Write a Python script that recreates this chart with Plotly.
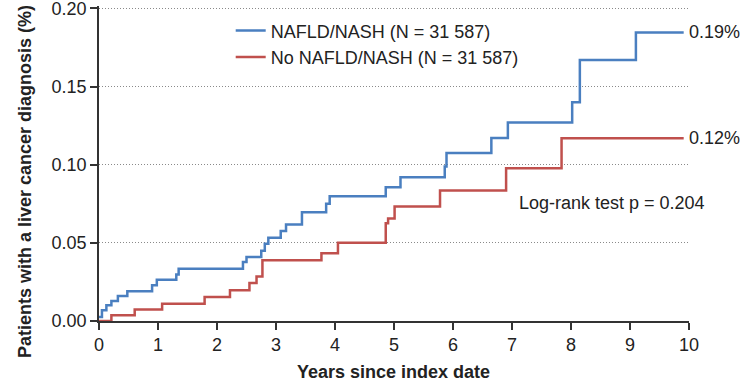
import plotly.graph_objects as go

# Years since index date (step times) and cumulative incidence (%)
nafld_years = [0, 0.05, 0.125, 0.21, 0.32, 0.48, 0.9, 0.98, 1.31, 1.35, 2.44, 2.5,
               2.75, 2.81, 2.87, 3.08, 3.17, 3.44, 3.85, 3.91, 4.86, 5.11, 5.86,
               5.89, 6.65, 6.93, 8.02, 8.15, 9.1, 9.91]
nafld_pct = [0.0026, 0.0068, 0.010, 0.0128, 0.016, 0.019, 0.0228, 0.0264, 0.0298,
             0.0334, 0.0377, 0.0409, 0.045, 0.0494, 0.0532, 0.0575, 0.0617, 0.0696,
             0.075, 0.0798, 0.0856, 0.092, 0.0988, 0.1075, 0.117, 0.127, 0.140,
             0.167, 0.1846, 0.1846]

no_nafld_years = [0, 0.21, 0.605, 1.07, 1.79, 2.22, 2.55, 2.67, 2.77, 3.77, 4.05,
                  4.86, 4.90, 5.01, 5.78, 6.9, 7.84, 9.91]
no_nafld_pct = [0, 0.0036, 0.0073, 0.011, 0.0153, 0.0196, 0.0243, 0.0285, 0.0388,
                0.0434, 0.050, 0.0625, 0.0655, 0.0732, 0.0835, 0.0977, 0.1169, 0.1169]

series_names = ["NAFLD/NASH (N = 31 587)", "No NAFLD/NASH (N = 31 587)"]
end_labels = ["0.19%", "0.12%"]
x_ticks = list(range(0, 11))
y_ticks = [0.00, 0.05, 0.10, 0.15, 0.20]

BLUE = "#4a7fc0"
RED = "#c0504d"
FONT = "Liberation Sans, Arial, sans-serif"
TXT = "#222222"
FS = 18

Y_TOP = 0.2015  # slightly above 0.20 so the top tick/grid is kept

# plot area in pixels (0.20 sits at y=8, 0 at y=320.7)
PX0, PX1, PY1 = 99.3, 689.3, 320.7
PY0 = PY1 - (PY1 - 8.0) * Y_TOP / 0.2
PW, PH = PX1 - PX0, PY1 - PY0

fig = go.Figure()
fig.add_trace(go.Scatter(x=nafld_years, y=nafld_pct, mode="lines", line_shape="hv",
                         line=dict(color=BLUE, width=2.5), name=series_names[0]))
fig.add_trace(go.Scatter(x=no_nafld_years, y=no_nafld_pct, mode="lines", line_shape="hv",
                         line=dict(color=RED, width=2.5), name=series_names[1]))

fig.add_annotation(x=10, y=nafld_pct[-1], text=end_labels[0], xanchor="left", yanchor="middle",
                   showarrow=False, font=dict(size=FS, color=TXT, family=FONT), xshift=-2)
fig.add_annotation(x=10, y=no_nafld_pct[-1], text=end_labels[1], xanchor="left", yanchor="middle",
                   showarrow=False, font=dict(size=FS, color=TXT, family=FONT), xshift=-2)
fig.add_annotation(x=7.12, y=0.0758, text="Log-rank test p = 0.204", xanchor="left",
                   yanchor="middle", showarrow=False, font=dict(size=FS, color=TXT, family=FONT),
                   xshift=-2)

# axis titles
fig.add_annotation(xref="paper", yref="paper", x=(393.5 - PX0) / PW, y=-(371.5 - PY1) / PH,
                   text="<b>Years since index date</b>", showarrow=False, xanchor="center",
                   yanchor="middle", font=dict(size=FS, color=TXT, family=FONT))
fig.add_annotation(xref="paper", yref="paper", x=-(PX0 - 26) / PW, y=(PY1 - 181) / PH,
                   text="<b>Patients with a liver cancer diagnosis (%)</b>", showarrow=False,
                   textangle=-90, xanchor="center", yanchor="middle",
                   font=dict(size=FS, color=TXT, family=FONT))

fig.update_layout(
    width=751, height=381,
    margin=dict(l=PX0, r=751 - PX1, t=PY0, b=381 - PY1),
    paper_bgcolor="white", plot_bgcolor="white",
    font=dict(family=FONT, size=FS, color=TXT),
    showlegend=True,
    legend=dict(x=(231 - PX0) / PW, y=1 - (12 - PY0) / PH, xanchor="left", yanchor="top",
                bgcolor="rgba(0,0,0,0)", font=dict(size=FS, family=FONT, color=TXT),
                tracegroupgap=0, itemwidth=30),
    xaxis=dict(range=[0, 10], tickvals=x_ticks, ticks="outside", ticklen=7, tickwidth=1.5,
               tickcolor="#333", showline=True, linecolor="#333", linewidth=1.5,
               showgrid=False, zeroline=False, automargin=False,
               tickfont=dict(size=FS, family=FONT, color=TXT)),
    yaxis=dict(range=[0, Y_TOP], tickvals=y_ticks, tickformat=".2f", ticks="outside", ticklen=7,
               tickwidth=1.5, tickcolor="#333", showline=True, linecolor="#333", linewidth=1.5,
               showgrid=True, gridcolor="#8a8a8a", griddash="1px,2px", gridwidth=1,
               zeroline=False, ticklabeloverflow="allow", automargin=False,
               tickfont=dict(size=FS, family=FONT, color=TXT)),
)

fig.write_html("out.html", config={"displayModeBar": False},
               post_script="document.body.style.margin='0';")
